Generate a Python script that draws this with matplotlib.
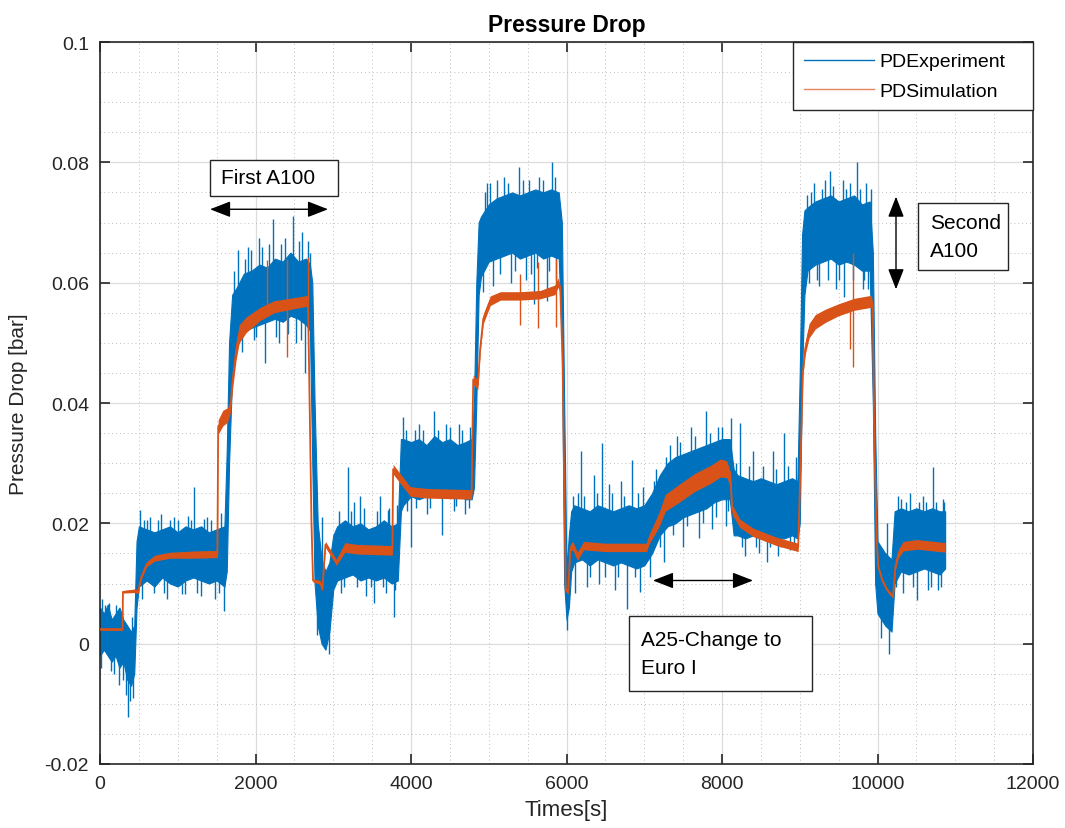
import numpy as np
import matplotlib.pyplot as plt
from matplotlib.patches import Rectangle

# Experiment: dense noise band (lower/upper edge) plus single noise spikes
t_exp = [0, 50, 100, 150, 200, 250, 300, 350, 400, 440,
         470,
         500, 600, 700, 800, 900, 1000, 1100, 1200, 1300, 1400, 1500, 1600,
         1630, 1660, 1700,
         1750, 1850, 1950, 2050, 2150, 2250, 2350, 2450, 2550, 2650, 2700,
         2730, 2760, 2800, 2850, 2900, 2950, 3000,
         3050, 3150, 3250, 3350, 3450, 3550, 3650, 3750, 3830,
         3870,
         3900, 4000, 4100, 4200, 4300, 4400, 4500, 4600, 4700, 4780,
         4810, 4840, 4870,
         4900, 5000, 5100, 5200, 5300, 5400, 5500, 5600, 5700, 5800, 5900,
         5940, 5970, 6000, 6030, 6060,
         6100, 6200, 6300, 6400, 6500, 6600, 6700, 6800, 6900, 7000,
         7100, 7200, 7300, 7400, 7500, 7600, 7700, 7800, 7900, 8000, 8100,
         8150,
         8200, 8300, 8400, 8500, 8600, 8700, 8800, 8900, 8970,
         9000, 9030, 9060,
         9100, 9200, 9300, 9400, 9500, 9600, 9700, 9800, 9900,
         9940, 9970, 10000, 10100, 10180, 10220,
         10300, 10400, 10500, 10600, 10700, 10800, 10870]
exp_hi = [0.006, 0.005, 0.0065, 0.004, 0.005, 0.006, 0.004, 0.003, 0.002, 0.003,
          0.017,
          0.0195, 0.019, 0.0185, 0.019, 0.0195, 0.0185, 0.0195, 0.019, 0.0195, 0.0185, 0.019, 0.0195,
          0.032, 0.050, 0.058,
          0.059, 0.0615, 0.062, 0.063, 0.0625, 0.064, 0.0635, 0.065, 0.0635, 0.064, 0.063,
          0.060, 0.040, 0.020, 0.014, 0.012, 0.0135, 0.018,
          0.0195, 0.0205, 0.0195, 0.020, 0.019, 0.0195, 0.0205, 0.0195, 0.020,
          0.034,
          0.034, 0.0335, 0.034, 0.033, 0.0345, 0.0335, 0.034, 0.033, 0.0335, 0.034,
          0.040, 0.060, 0.070,
          0.071, 0.073, 0.074, 0.0745, 0.075, 0.0745, 0.075, 0.0755, 0.075, 0.0755, 0.075,
          0.070, 0.040, 0.012, 0.018, 0.022,
          0.023, 0.0225, 0.022, 0.023, 0.0225, 0.022, 0.0225, 0.023, 0.0225, 0.023,
          0.025, 0.028, 0.030, 0.031, 0.0315, 0.032, 0.0325, 0.033, 0.0335, 0.034, 0.034,
          0.029,
          0.028, 0.0275, 0.027, 0.0275, 0.027, 0.0265, 0.027, 0.0275, 0.027,
          0.045, 0.068, 0.072,
          0.0725, 0.0735, 0.074, 0.0745, 0.0735, 0.074, 0.0745, 0.073, 0.0735,
          0.065, 0.035, 0.017, 0.015, 0.014, 0.022,
          0.0225, 0.022, 0.0225, 0.022, 0.0225, 0.022, 0.022]
exp_lo = [-0.002, -0.001, -0.002, -0.003, -0.002, -0.004, -0.003, -0.006, -0.007, -0.005,
          0.006,
          0.0095, 0.0105, 0.0095, 0.011, 0.010, 0.0095, 0.0105, 0.011, 0.0105, 0.010, 0.0105, 0.0095,
          0.012, 0.030, 0.045,
          0.049, 0.052, 0.0525, 0.053, 0.0535, 0.054, 0.0535, 0.0545, 0.054, 0.053, 0.052,
          0.030, 0.010, 0.003, 0.000, -0.001, 0.002, 0.009,
          0.0105, 0.011, 0.0115, 0.0105, 0.011, 0.0105, 0.011, 0.010, 0.0105,
          0.022,
          0.023, 0.0245, 0.024, 0.0245, 0.025, 0.0245, 0.0245, 0.025, 0.024, 0.024,
          0.026, 0.040, 0.058,
          0.061, 0.0635, 0.064, 0.0645, 0.065, 0.064, 0.0645, 0.065, 0.064, 0.0645, 0.064,
          0.050, 0.010, 0.004, 0.006, 0.012,
          0.0135, 0.014, 0.013, 0.014, 0.0135, 0.013, 0.0135, 0.013, 0.0125, 0.013,
          0.015, 0.018, 0.0195, 0.020, 0.021, 0.0215, 0.022, 0.0225, 0.0235, 0.024, 0.024,
          0.018,
          0.018, 0.0175, 0.018, 0.0175, 0.018, 0.0175, 0.0175, 0.018, 0.0175,
          0.020, 0.045, 0.058,
          0.062, 0.063, 0.0635, 0.064, 0.063, 0.0635, 0.063, 0.062, 0.062,
          0.040, 0.010, 0.005, 0.003, 0.002, 0.010,
          0.012, 0.0115, 0.012, 0.0125, 0.012, 0.0115, 0.0125]

# big noise spikes
spike_t = [30, 120, 180, 250, 330, 365, 410, 430,
           520, 560, 640, 700, 780, 860, 950, 1050, 1130, 1210, 1300, 1380, 1480, 1560, 1590,
           1720, 1780, 1820, 1900, 1980, 2050, 2120, 2230, 2300, 2380, 2480, 2520, 2600, 2640, 2680,
           2790, 2855, 2945,
           3100, 3190, 3270, 3350, 3420, 3520, 3600, 3680, 3720, 3780, 3820,
           3900, 3950, 4000, 4100, 4200, 4300, 4400, 4450, 4550, 4620, 4700, 4760,
           4920, 4980, 5050, 5100, 5200, 5290, 5390, 5480, 5520, 5580, 5650, 5750, 5810, 5870,
           6010,
           6110, 6190, 6260, 6350, 6420, 6460, 6550, 6620, 6700, 6780, 6840, 6940, 6990,
           7080, 7150, 7250, 7330, 7420, 7500, 7600, 7700, 7800, 7870, 7950, 8050, 8120,
           8230, 8300, 8400, 8480, 8580, 8650, 8720, 8800, 8880, 8950,
           9120, 9180, 9250, 9320, 9390, 9470, 9560, 9570, 9650, 9730, 9810, 9850, 9880,
           10050, 10120, 10150,
           10260, 10330, 10420, 10510, 10580, 10650, 10720, 10780, 10840]
spike_v = [0.0075, 0.0068, -0.005, -0.0068, -0.0085, -0.0122, 0.0045, -0.009,
           0.0222, 0.0205, 0.021, 0.0085, 0.0215, 0.0075, 0.021, 0.0082, 0.0212, 0.026, 0.008, 0.021, 0.0075, 0.0218, 0.0055,
           0.062, 0.0655, 0.0485, 0.066, 0.0505, 0.0675, 0.0466, 0.0705, 0.050, 0.0675, 0.071, 0.050, 0.0685, 0.045, 0.067,
           0.0015, 0.021, -0.0018,
           0.0085, 0.0294, 0.0235, 0.0245, 0.008, 0.0068, 0.0245, 0.0085, 0.0225, 0.0045, 0.023,
           0.0377, 0.022, 0.016, 0.0365, 0.0215, 0.0386, 0.018, 0.0365, 0.022, 0.0365, 0.0215, 0.036,
           0.0585, 0.0765, 0.0595, 0.077, 0.0775, 0.060, 0.0793, 0.0605, 0.077, 0.0565, 0.0775, 0.057, 0.080, 0.0605,
           0.0023,
           0.0085, 0.032, 0.0095, 0.028, 0.010, 0.0334, 0.0265, 0.009, 0.027, 0.0057, 0.0306, 0.0086, 0.026,
           0.011, 0.029, 0.0135, 0.033, 0.0345, 0.016, 0.036, 0.0175, 0.0386, 0.019, 0.036, 0.0195, 0.0375,
           0.0367, 0.0145, 0.032, 0.015, 0.0135, 0.032, 0.0145, 0.035, 0.0155, 0.031,
           0.060, 0.0765, 0.0595, 0.077, 0.0785, 0.059, 0.077, 0.0577, 0.0765, 0.080, 0.059, 0.0765, 0.059,
           0.001, 0.020, -0.0018,
           0.0245, 0.0085, 0.025, 0.0073, 0.0245, 0.009, 0.0294, 0.009, 0.024]

# smaller ripple just outside the band edges
ripple_t = [10, 70, 140, 210, 280, 300, 390,
            540, 600, 740, 820, 900, 1000, 1090, 1170, 1250, 1340, 1430, 1530,
            1760, 1860, 1940, 2010, 2090, 2180, 2270, 2330, 2420, 2560, 2580, 2700,
            3070, 3140, 3230, 3300, 3390, 3480, 3560, 3640, 3700, 3800,
            3930, 4050, 4060, 4150, 4250, 4350, 4500, 4580, 4660, 4740,
            4950, 5020, 5150, 5250, 5340, 5440, 5540, 5620, 5700, 5780, 5850, 5910,
            6080, 6150, 6230, 6300, 6390, 6500, 6590, 6660, 6740, 6880, 6920,
            7120, 7200, 7280, 7370, 7460, 7550, 7650, 7750, 7850, 7920, 8000, 8080,
            8180, 8260, 8350, 8440, 8530, 8620, 8700, 8760, 8850, 8920,
            9090, 9150, 9220, 9280, 9360, 9430, 9510, 9600, 9690, 9770, 9830, 9910,
            10240, 10300, 10370, 10460, 10540, 10620, 10690, 10750, 10820, 10860]
ripple_v = [-0.004, 0.0065, -0.0045, 0.0065, 0.0055, -0.006, -0.0095,
            0.0075, 0.0205, 0.0205, 0.0085, 0.0205, 0.0205, 0.0082, 0.0205, 0.0085, 0.0208, 0.0205, 0.0085,
            0.0495, 0.064, 0.0655, 0.051, 0.066, 0.0665, 0.051, 0.0665, 0.0515, 0.067, 0.0505, 0.065,
            0.022, 0.0095, 0.022, 0.0095, 0.0225, 0.0095, 0.022, 0.0095, 0.0222, 0.009,
            0.0355, 0.0355, 0.0225, 0.0355, 0.0225, 0.0355, 0.036, 0.0228, 0.0355, 0.0225,
            0.075, 0.0765, 0.0615, 0.0765, 0.062, 0.077, 0.0615, 0.0625, 0.077, 0.062, 0.0775, 0.062,
            0.0245, 0.025, 0.0245, 0.011, 0.025, 0.011, 0.025, 0.011, 0.0245, 0.011, 0.025,
            0.027, 0.016, 0.031, 0.018, 0.0335, 0.0195, 0.0345, 0.020, 0.035, 0.021, 0.036, 0.022,
            0.030, 0.016, 0.0295, 0.016, 0.0295, 0.016, 0.029, 0.016, 0.0295, 0.016,
            0.0745, 0.075, 0.0605, 0.0755, 0.0605, 0.076, 0.0605, 0.0755, 0.0605, 0.0755, 0.0605, 0.0755,
            0.0095, 0.024, 0.0235, 0.0095, 0.0235, 0.0235, 0.0095, 0.0235, 0.0095, 0.0235]

# Simulation: centre line and half thickness of its ripple
t_sim = [0, 290, 295, 450, 490, 530, 600, 700, 900, 1200,
         1510, 1520, 1580, 1640, 1680, 1700, 1750, 1790, 1880, 2060,
         2240, 2585, 2675, 2690, 2720, 2740, 2830, 2860, 2900, 3040,
         3150, 3300, 3760, 3770, 3900, 3990, 4200, 4780, 4800, 4860,
         4890, 4930, 5020, 5150, 5400, 5660, 5850, 5890, 5920, 5950,
         5970, 5990, 6020, 6050, 6080, 6140, 6220, 6500, 7030, 7060,
         7190, 7270, 7450, 7650, 7850, 7980, 8060, 8110, 8130, 8230,
         8400, 8700, 8980, 9010, 9040, 9070, 9120, 9200, 9330, 9500,
         9700, 9920, 9940, 9950, 9960, 9990, 10010, 10060, 10120, 10200,
         10230, 10270, 10330, 10510, 10870]
sim = [0.0024, 0.0024, 0.0086, 0.0088, 0.0086, 0.0110, 0.0132, 0.0142, 0.0147, 0.0148,
       0.0149, 0.0360, 0.0375, 0.0380, 0.0395, 0.0430, 0.0486, 0.0515, 0.0530, 0.0548,
       0.0560, 0.0568, 0.0570, 0.0450, 0.0200, 0.0105, 0.0102, 0.0090, 0.0165, 0.0135,
       0.0160, 0.0157, 0.0155, 0.0290, 0.0268, 0.0253, 0.0250, 0.0248, 0.0439, 0.0430,
       0.0490, 0.0540, 0.0570, 0.0578, 0.0578, 0.0580, 0.0588, 0.0600, 0.0590, 0.0467,
       0.0270, 0.0090, 0.0085, 0.0160, 0.0163, 0.0145, 0.0163, 0.0160, 0.0160, 0.0173,
       0.0206, 0.0234, 0.0250, 0.0268, 0.0281, 0.0292, 0.0290, 0.0273, 0.0223, 0.0200,
       0.0185, 0.0170, 0.0160, 0.0300, 0.0450, 0.0490, 0.0520, 0.0535, 0.0545, 0.0555,
       0.0564, 0.0569, 0.0560, 0.0440, 0.0330, 0.0173, 0.0128, 0.0106, 0.0090, 0.0078,
       0.0128, 0.0150, 0.0162, 0.0165, 0.0160]
sim_w = [0.0002, 0.0002, 0.0002,
         0.0003, 0.0003, 0.0003, 0.0004, 0.0005, 0.0005, 0.0006, 0.0006,
         0.0012, 0.0013, 0.0012, 0.0010,
         0.0012, 0.0015, 0.0015, 0.0013, 0.0011, 0.0010, 0.0009, 0.0009,
         0.0003, 0.0003, 0.0003, 0.0003, 0.0003,
         0.0005, 0.0005, 0.0008, 0.0008, 0.0008,
         0.0008, 0.0008, 0.0008, 0.0008, 0.0008,
         0.0008, 0.0008, 0.0005, 0.0008, 0.0008, 0.0007, 0.0007, 0.0007, 0.0008, 0.0008, 0.0005,
         0.0003, 0.0003, 0.0003, 0.0003, 0.0006, 0.0007, 0.0007, 0.0007, 0.0007,
         0.0007, 0.0008, 0.0012, 0.0014, 0.0015, 0.0015, 0.0015, 0.0015, 0.0014, 0.0012, 0.0008, 0.0007, 0.0007, 0.0007,
         0.0007,
         0.0005, 0.0005, 0.0010, 0.0012, 0.0012, 0.0011, 0.0010, 0.0010, 0.0010,
         0.0005, 0.0003, 0.0003, 0.0003, 0.0003, 0.0003, 0.0003, 0.0003,
         0.0005, 0.0007, 0.0008, 0.0008, 0.0008]

# sharp spikes of the simulation (time, from, to)
sim_spike_t = [2150, 2400, 2675, 5400, 5630, 5870, 9650, 9680]
sim_spike_lo = [0.0548, 0.0477, 0.0570, 0.0530, 0.0525, 0.0527, 0.0490, 0.0460]
sim_spike_hi = [0.0638, 0.0640, 0.0643, 0.0615, 0.0635, 0.0640, 0.0560, 0.0650]

BLUE = '#0072BD'
ORANGE = '#D95319'

plt.rcParams['font.family'] = ['Liberation Sans', 'DejaVu Sans']
plt.rcParams['font.size'] = 14

fig = plt.figure(figsize=(10.65, 8.29), dpi=100)
ax = fig.add_axes([100 / 1065, 64 / 829, 933 / 1065, 722 / 829])

t_exp = np.array(t_exp)
exp_lo = np.array(exp_lo)
exp_hi = np.array(exp_hi)
ax.fill_between(t_exp, exp_lo, exp_hi, color=BLUE, lw=0.8, zorder=2)
mid = (exp_lo + exp_hi) / 2
ax.vlines(spike_t, np.interp(spike_t, t_exp, mid), spike_v, color=BLUE, lw=1.0, zorder=2)
ax.vlines(ripple_t, np.interp(ripple_t, t_exp, mid), ripple_v, color=BLUE, lw=1.0, zorder=2)
ax.plot([], [], color=BLUE, lw=1, label='PDExperiment')

t_sim = np.array(t_sim)
sim = np.array(sim)
sim_w = np.array(sim_w)
ax.fill_between(t_sim, sim - sim_w, sim + sim_w, color=ORANGE, lw=0, zorder=3)
ax.plot(t_sim, sim, color=ORANGE, lw=1.3, zorder=3)
ax.vlines(sim_spike_t, sim_spike_lo, sim_spike_hi, color=ORANGE, lw=1.0, zorder=3)
ax.plot([], [], color=ORANGE, lw=1, alpha=0.7, label='PDSimulation')

ax.set_xlim(0, 12000)
ax.set_ylim(-0.02, 0.1)
ax.set_xticks(np.arange(0, 12001, 2000))
ax.set_yticks(np.arange(-0.02, 0.1001, 0.02))
ax.set_yticklabels(['-0.02', '0', '0.02', '0.04', '0.06', '0.08', '0.1'])
ax.set_xticks(np.arange(0, 12001, 500), minor=True)
ax.set_yticks(np.arange(-0.02, 0.1001, 0.005), minor=True)
ax.grid(which='major', color='#dcdcdc', lw=0.9, ls='-', zorder=0)
ax.grid(which='minor', color='#bdbdbd', lw=0.7, ls=(0, (1, 3)), zorder=0)
ax.set_axisbelow(True)
ax.tick_params(which='major', direction='in', length=7, width=1.2, top=True, right=True,
               colors='#262626', labelsize=14, pad=8)
ax.tick_params(which='minor', length=0)
for s in ax.spines.values():
    s.set_linewidth(1.2)
    s.set_color('#262626')

ax.set_title('Pressure Drop', fontsize=16.5, fontweight='bold', pad=8)
ax.set_xlabel('Times[s]', fontsize=16, color='#262626', labelpad=5)
ax.set_ylabel('Pressure Drop [bar]', fontsize=15, color='#262626', labelpad=12)

leg = ax.legend(loc='upper left', bbox_to_anchor=(0.7428, 0.903, 0.2572, 0.097),
                mode='expand', borderaxespad=0, fancybox=False, framealpha=1,
                edgecolor='#262626', handlelength=3.6, handletextpad=0.3,
                borderpad=0.55, labelspacing=0.6, fontsize=14)
leg.get_frame().set_linewidth(1.0)

# double arrows
arrow = dict(arrowstyle='<|-|>,head_length=0.9,head_width=0.35', color='black',
             lw=1.0, shrinkA=0, shrinkB=0)
ax.annotate('', xy=(1415, 0.0722), xytext=(2933, 0.0722), arrowprops=arrow)
ax.annotate('', xy=(10238, 0.0743), xytext=(10238, 0.0589), arrowprops=arrow)
ax.annotate('', xy=(7112, 0.0105), xytext=(8399, 0.0105), arrowprops=arrow)

# text boxes (figure pixel layout)
boxes = [
    ((210, 161, 338, 197), 'First A100', 221),
    ((918, 204, 1008, 271), 'Second\nA100', 930),
    ((629, 617, 812, 692), 'A25-Change to\nEuro I', 641),
]
for (x0, y0, x1, y1), txt, tx in boxes:
    fig.patches.append(Rectangle((x0 / 1065, 1 - y1 / 829), (x1 - x0) / 1065, (y1 - y0) / 829,
                                 transform=fig.transFigure, fc='white', ec='#262626',
                                 lw=1.0, zorder=5))
    fig.text(tx / 1065, 1 - (y0 + y1) / 2 / 829, txt, fontsize=15, ha='left', va='center',
             linespacing=1.6, zorder=6)

fig.savefig('out.png', dpi=100)
